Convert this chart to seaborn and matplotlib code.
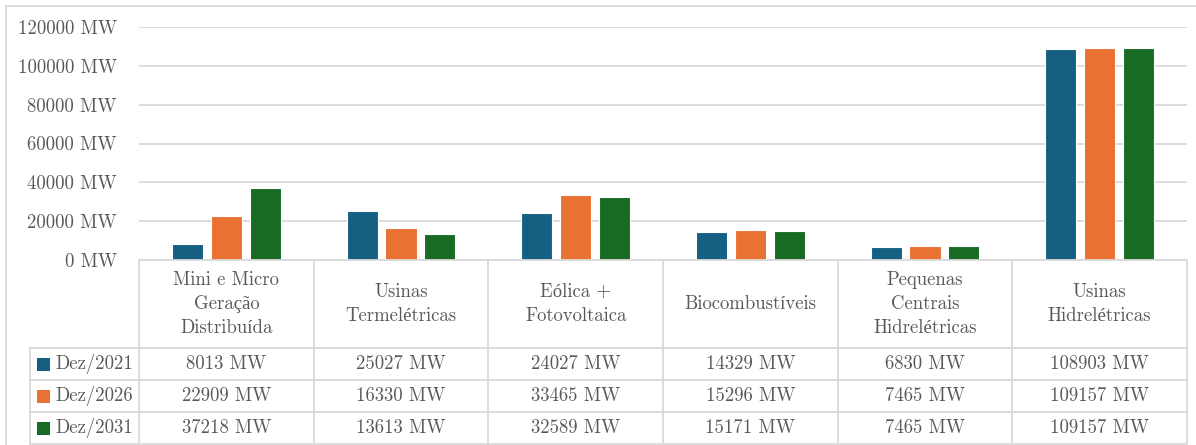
import matplotlib
matplotlib.use("Agg")
import matplotlib.pyplot as plt
import matplotlib.transforms as mtransforms
from matplotlib.lines import Line2D
from matplotlib.patches import Rectangle
import pandas as pd
import seaborn as sns

# Installed capacity by source
categories = [
    "Mini e Micro\nGeração\nDistribuída",
    "Usinas\nTermelétricas",
    "Eólica +\nFotovoltaica",
    "Biocombustíveis",
    "Pequenas\nCentrais\nHidrelétricas",
    "Usinas\nHidrelétricas",
]
series_names = ["Dez/2021", "Dez/2026", "Dez/2031"]
dez_2021 = [8013, 25027, 24027, 14329, 6830, 108903]
dez_2026 = [22909, 16330, 33465, 15296, 7465, 109157]
dez_2031 = [37218, 13613, 32589, 15171, 7465, 109157]
y_ticks = [0, 20000, 40000, 60000, 80000, 100000, 120000]

colors = ["#156082", "#E97132", "#196B24"]
text_color = "#595959"
line_color = "#D9D9D9"

sns.set_theme(style="white")
plt.rcParams["font.family"] = ["cmr10", "Liberation Serif"]
plt.rcParams["axes.unicode_minus"] = False

rows = []
for name, vals in zip(series_names, [dez_2021, dez_2026, dez_2031]):
    for cat, v in zip(categories, vals):
        rows.append({"categoria": cat, "serie": name, "valor": v})
df = pd.DataFrame(rows)

W, H = 1196, 445
fig = plt.figure(figsize=(W / 100, H / 100), dpi=100)
ax_left, ax_right, ax_top, ax_bottom = 139, 1187, 27, 260
ax = fig.add_axes([ax_left / W, 1 - ax_bottom / H,
                   (ax_right - ax_left) / W, (ax_bottom - ax_top) / H])

sns.barplot(data=df, x="categoria", y="valor", hue="serie",
            order=categories, hue_order=series_names, palette=colors,
            width=0.667, gap=0.2, saturation=1, edgecolor="white",
            linewidth=0.8, legend=False, ax=ax)

ax.set_xlim(-0.5, len(categories) - 0.5)
ax.set_ylim(0, 120000)
ax.set_yticks(y_ticks)
ax.set_yticklabels([f"{t} MW" for t in y_ticks], fontsize=13.5, color=text_color)
ax.set_xticks([])
ax.set_xlabel("")
ax.set_ylabel("")
ax.tick_params(axis="y", length=0, pad=16)
ax.yaxis.grid(True, color=line_color, linewidth=1.3)
ax.set_axisbelow(True)
for s in ax.spines.values():
    s.set_visible(False)

# Data table beneath the plot area (pixel coordinates, origin at top-left)
px = mtransforms.Affine2D().scale(1 / W, -1 / H).translate(0, 1) + fig.transFigure
colx = mtransforms.blended_transform_factory(ax.transData, px)

def hline(x0, x1, y, trans=px):
    fig.add_artist(Line2D([x0, x1], [y, y], transform=trans, color=line_color, lw=1.3))

def vline(x, y0, y1, trans=px):
    fig.add_artist(Line2D([x, x], [y0, y1], transform=trans, color=line_color, lw=1.3))

header_top, header_bottom = 260, 348
row_h = 32
legend_left = 30
table_bottom = header_bottom + row_h * len(series_names)

hline(ax_left, ax_right, header_top)
hline(legend_left, ax_right, header_bottom)
for i in range(1, len(series_names) + 1):
    hline(legend_left, ax_right, header_bottom + row_h * i)
vline(legend_left, header_bottom, table_bottom)
for k in range(len(categories) + 1):
    vline(k - 0.5, header_top, table_bottom, trans=colx)

for i, cat in enumerate(categories):
    fig.text(i, (header_top + header_bottom) / 2, cat, transform=colx,
             ha="center", va="center", multialignment="center",
             fontsize=13.5, color=text_color, linespacing=1.45)

for r, (name, vals) in enumerate(zip(series_names, [dez_2021, dez_2026, dez_2031])):
    yc = header_bottom + row_h * r + row_h / 2
    fig.add_artist(Rectangle((37, yc - 6.5), 13, 13, transform=px,
                             facecolor=colors[r], edgecolor="none"))
    fig.text(55, yc, name, transform=px, ha="left", va="center",
             fontsize=13.5, color=text_color)
    for i, v in enumerate(vals):
        fig.text(i, yc, f"{v} MW", transform=colx, ha="center", va="center",
                 fontsize=13.5, color=text_color)

# Chart area frame
hline(6, W, 6)
vline(6, 6, H)

fig.savefig("out.png", dpi=100)
